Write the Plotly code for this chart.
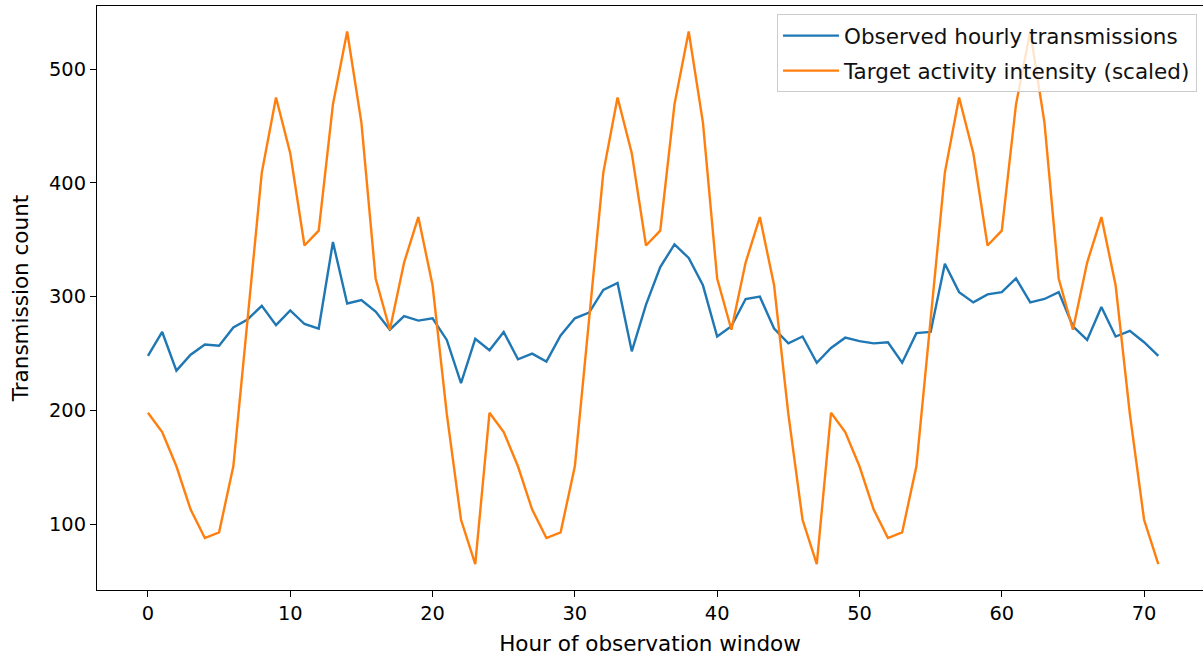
import plotly.graph_objects as go

hours = list(range(72))

observed = [248, 269, 235, 249, 258, 257, 273, 280, 292, 275, 288, 276, 272, 348,
            294, 297, 287, 271, 283, 279, 281, 262, 224, 263,
            253, 269, 245, 250, 243, 266, 281, 286, 306, 312, 252, 293,
            326, 346, 334, 310, 265, 274, 298, 300, 272, 259, 265, 242,
            255, 264, 261, 259, 260, 242, 268, 269, 329, 304, 295, 302,
            304, 316, 295, 298, 304, 274, 262, 291, 265, 270, 260, 248]

target_cycle = [198, 181, 151, 113, 88, 93, 151, 280, 409, 475, 426, 345,
                358, 469, 533, 453, 316, 271, 330, 370, 310, 197, 104, 65]
target = target_cycle * 3

x_ticks = [0, 10, 20, 30, 40, 50, 60, 70]
y_ticks = [100, 200, 300, 400, 500]

FONT = "DejaVu Sans"
FS_TICK = 19.4
FS_LABEL = 21.5

fig = go.Figure()
fig.add_trace(go.Scatter(x=hours, y=observed, mode="lines",
                         name="Observed hourly transmissions", legendgroup="a",
                         line=dict(color="#1f77b4", width=2.4)))
fig.add_trace(go.Scatter(x=hours, y=target, mode="lines",
                         name="Target activity intensity (scaled)", legendgroup="b",
                         line=dict(color="#ff7f0e", width=2.4)))

fig.update_layout(
    width=1203, height=656,
    margin=dict(l=97, r=0, t=6, b=66),
    paper_bgcolor="white", plot_bgcolor="white",
    font=dict(family=FONT, size=FS_TICK, color="black"),
    showlegend=True,
    legend=dict(x=0.9946, y=0.986, xanchor="right", yanchor="top",
                bgcolor="rgba(255,255,255,0.8)", bordercolor="#cccccc",
                borderwidth=1, font=dict(family=FONT, size=FS_LABEL, color="#111111"),
                tracegroupgap=4, itemwidth=56),
)
fig.update_xaxes(range=[-3.58, 74.14], tickmode="array", tickvals=x_ticks,
                 showgrid=False, zeroline=False, showline=True, linecolor="black",
                 linewidth=1.3, mirror=True, ticks="outside", ticklen=6,
                 tickcolor="black", tickwidth=1.3,
                 tickfont=dict(family=FONT, size=FS_TICK),
                 title=dict(text="Hour of observation window", standoff=13,
                            font=dict(family=FONT, size=FS_LABEL)))
fig.update_yaxes(range=[42.3, 555.4], tickmode="array", tickvals=y_ticks,
                 showgrid=False, zeroline=False, showline=True, linecolor="black",
                 linewidth=1.3, mirror=False, ticks="outside", ticklen=6,
                 tickcolor="black", tickwidth=1.3,
                 tickfont=dict(family=FONT, size=FS_TICK),
                 title=dict(text="Transmission count", standoff=14,
                            font=dict(family=FONT, size=FS_LABEL)))

fig.write_html("out.html", config={"displayModeBar": False},
               post_script="document.body.style.margin='0';document.body.style.overflow='hidden';")
